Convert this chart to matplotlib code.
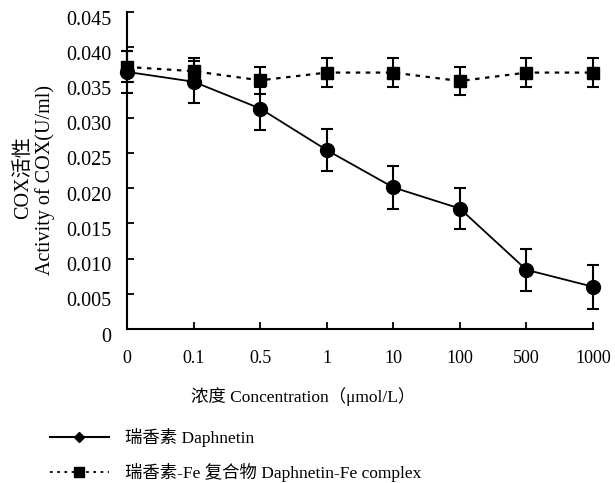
import numpy as np
import matplotlib
matplotlib.use("Agg")
import matplotlib.pyplot as plt
from matplotlib.lines import Line2D
import matplotlib.transforms as mtransforms

#Fonts: serif for latin, CJK fallback for the Chinese text
plt.rcParams['font.family'] = ['Liberation Serif', 'Noto Sans CJK SC']
plt.rcParams['axes.unicode_minus'] = False

#Data
concentrations = ["0", "0.1", "0.5", "1", "10", "100", "500", "1000"]
daphnetin = [0.0365, 0.0351, 0.0313, 0.0254, 0.0201, 0.0171, 0.0084, 0.0060]
daphnetin_err = [0.0030, 0.0030, 0.0031, 0.0030, 0.0030, 0.0029, 0.0030, 0.0031]
complex_fe = [0.0372, 0.0366, 0.0353, 0.0364, 0.0364, 0.0352, 0.0364, 0.0364]
complex_err = [0.0022, 0.0018, 0.0019, 0.0020, 0.0020, 0.0020, 0.0020, 0.0020]
y_ticks = [0, 0.005, 0.010, 0.015, 0.020, 0.025, 0.030, 0.035, 0.040, 0.045]
y_tick_labels = ["0", "0.005", "0.010", "0.015", "0.020", "0.025", "0.030", "0.035", "0.040", "0.045"]
legend_labels = ["瑞香素 Daphnetin", "瑞香素-Fe 复合物 Daphnetin-Fe complex"]

fig = plt.figure(figsize=(6.15, 4.83), dpi=100)
ax = fig.add_axes([127/615, 1 - 329/483, (593-127)/615, (329-12)/483])

x = np.arange(len(concentrations))

#Fe complex, dotted line with squares
ax.errorbar(x, complex_fe, yerr=complex_err, color='black', linestyle=(0, (2, 2.5)),
            linewidth=1.6, marker='s', markersize=8, capsize=4, elinewidth=1.5,
            capthick=1.5, clip_on=False, zorder=3)
#Daphnetin, solid line with circles
ax.errorbar(x, daphnetin, yerr=daphnetin_err, color='black', linestyle='-',
            linewidth=1.3, marker='o', markersize=10, capsize=4, elinewidth=1.5,
            capthick=1.5, clip_on=False, zorder=4)

ax.set_xlim(0, len(concentrations) - 1)
ax.set_ylim(0, 0.045)
ax.set_xticks(x)
ax.set_xticklabels(concentrations, fontsize=13)
ax.set_yticks(y_ticks)
ax.set_yticklabels(y_tick_labels, fontsize=14.5)

#Hide the top and right borders
ax.spines['top'].set_visible(False)
ax.spines['right'].set_visible(False)
ax.spines['left'].set_linewidth(1.5)
ax.spines['bottom'].set_linewidth(1.5)
ax.tick_params(direction='in', length=5, width=1.3)
ax.tick_params(axis='y', pad=11)
ax.tick_params(axis='x', pad=15)

#Y tick labels sit a little below their ticks in the reference
offset = mtransforms.ScaledTranslation(0, -4/72, fig.dpi_scale_trans)
for lab in ax.get_yticklabels():
    lab.set_transform(lab.get_transform() + offset)

#Axis titles
fig.text(303/615, 1 - 397/483, "浓度 Concentration（μmol/L）", fontsize=12.5,
         ha='center', va='center')
fig.text(24/615, 1 - 178/483, "COX活性", fontsize=14.5, rotation=90,
         ha='center', va='center')
fig.text(45/615, 1 - 180/483, "Activity of COX(U/ml)", fontsize=14.5, rotation=90,
         ha='center', va='center')

#Legend below the plot
handles = [Line2D([], [], color='black', linestyle='-', linewidth=1.5, marker='D', markersize=5),
           Line2D([], [], color='black', linestyle=(0, (1.5, 2.5)), linewidth=1.3, marker='s', markersize=7)]
fig.legend(handles, legend_labels, loc='upper left', bbox_to_anchor=(43/615, 1 - 421/483),
           frameon=False, fontsize=12.5, handlelength=3.4, handletextpad=0.9, labelspacing=0.95,
           borderaxespad=0)

fig.savefig("out.png", dpi=100)
